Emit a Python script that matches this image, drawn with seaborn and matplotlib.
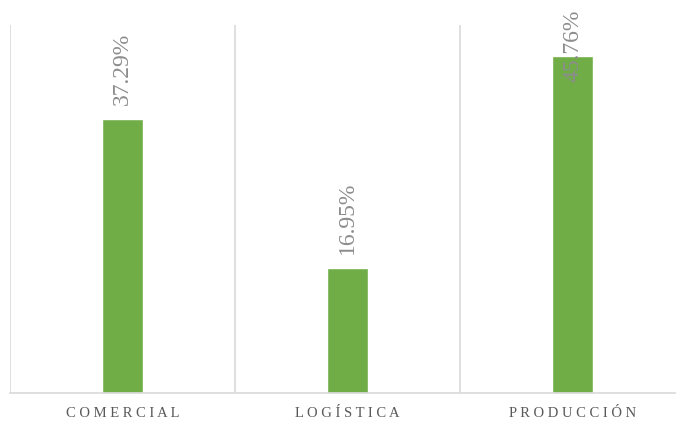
import matplotlib
matplotlib.use("Agg")
import matplotlib.pyplot as plt
import seaborn as sns
import pandas as pd

categories = ["COMERCIAL", "LOGÍSTICA", "PRODUCCIÓN"]
values = [37.29, 16.95, 45.76]
value_labels = ["37.29%", "16.95%", "45.76%"]

df = pd.DataFrame({"cat": categories, "val": values})

sns.set_style("white")
plt.rcParams["font.family"] = ["Liberation Serif", "DejaVu Serif"]

fig = plt.figure(figsize=(6.76, 4.25), dpi=100)
ax = fig.add_axes([10/676, 32/425, 675/676, 368/425])

sns.barplot(data=df, x="cat", y="val", color="#70AD47", width=0.18,
            saturation=1, ax=ax)

ax.set_xlim(-0.5, 2.5)
ax.set_ylim(0, 50)
ax.set_yticks([])
ax.set_xlabel("")
ax.set_ylabel("")
for s in ["top", "left", "right"]:
    ax.spines[s].set_visible(False)
ax.spines["bottom"].set_color("#D9D9D9")
ax.spines["bottom"].set_linewidth(1.2)

for xb in [-0.5, 0.5, 1.5, 2.5]:
    ax.axvline(xb, color="#D9D9D9", lw=1.2, zorder=0)

ax.set_xticks(range(len(categories)))
ax.set_xticklabels([" ".join(c) for c in categories], fontsize=10.5, color="#595959")
ax.tick_params(axis="x", length=0, pad=10)

for i, (v, lab) in enumerate(zip(values, value_labels)):
    top_px = v / 50 * 368
    if top_px + 14 + 72 > 368 + 20:
        # clipped near the top of the chart area
        ax.annotate(lab, xy=(i, 50), xytext=(0, 11), textcoords="offset points",
                    rotation=90, ha="center", va="top", fontsize=17,
                    color="#8C8C8C")
    else:
        ax.annotate(lab, xy=(i, v), xytext=(0, 10), textcoords="offset points",
                    rotation=90, ha="center", va="bottom", fontsize=17,
                    color="#8C8C8C")

fig.savefig("out.png", dpi=100)
